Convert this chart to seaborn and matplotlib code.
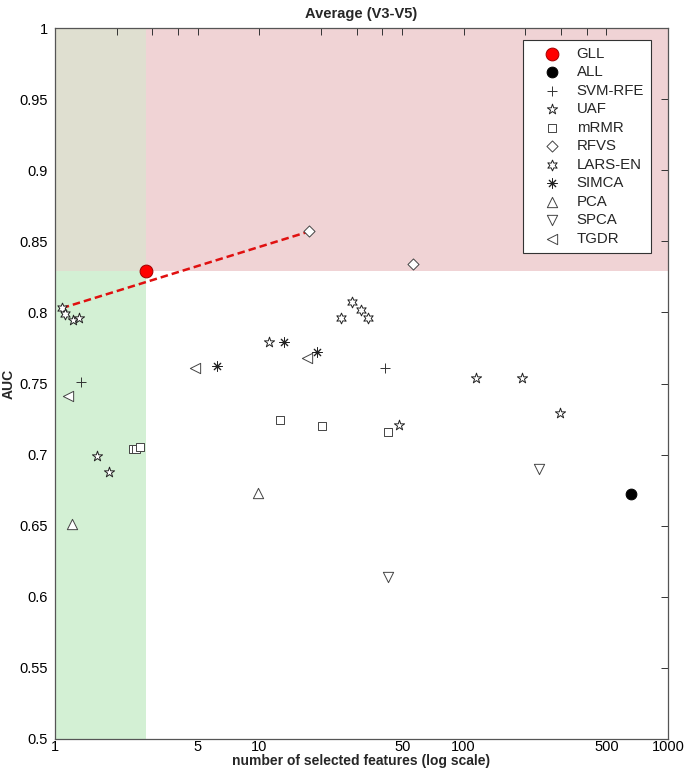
import numpy as np
import pandas as pd
import seaborn as sns
import matplotlib.pyplot as plt
from matplotlib.ticker import FixedLocator, FixedFormatter, NullLocator

# valores (numero de features, AUC)
gll_x = [2.8]
gll_y = [0.829]
all_x = [659]
all_y = [0.672]
svm_x = [1.34, 41.0]
svm_y = [0.751, 0.761]
uaf_x = [1.22, 1.31, 1.61, 1.84, 11.2, 48.5, 115, 194, 295]
uaf_y = [0.795, 0.796, 0.699, 0.688, 0.779, 0.721, 0.754, 0.754, 0.729]
mrmr_x = [2.41, 2.49, 2.61, 12.6, 20.3, 42.4]
mrmr_y = [0.704, 0.704, 0.705, 0.724, 0.720, 0.716]
rfvs_x = [17.6, 56.2]
rfvs_y = [0.857, 0.834]
lars_x = [1.08, 1.12, 25.2, 28.5, 31.5, 34.2]
lars_y = [0.803, 0.799, 0.796, 0.807, 0.802, 0.796]
simca_x = [6.22, 13.2, 19.2]
simca_y = [0.762, 0.779, 0.772]
pca_x = [1.21, 9.89]
pca_y = [0.651, 0.673]
spca_x = [42.4, 235]
spca_y = [0.614, 0.690]
tgdr_x = [1.16, 4.86, 17.2]
tgdr_y = [0.741, 0.761, 0.768]

x_ticks = [1, 2, 3, 4, 5, 10, 20, 30, 40, 50, 100, 200, 300, 400, 500, 1000]
x_labels = ['1', '', '', '', '5', '10', '', '', '', '50', '100', '', '', '', '500', '1000']
y_ticks = [0.5, 0.55, 0.6, 0.65, 0.7, 0.75, 0.8, 0.85, 0.9, 0.95, 1.0]

sns.set_theme(style='white')
plt.rcParams['font.family'] = ['Liberation Sans', 'DejaVu Sans']

fig = plt.figure(figsize=(6.85, 7.71), dpi=100)
ax = fig.add_axes([55 / 685, 1 - 739 / 771, 613 / 685, 711 / 771])
ax.set_xscale('log')
ax.set_xlim(1, 1000)
ax.set_ylim(0.5, 1)

# regioes coloridas
x_lim = gll_x[0]
y_lim = gll_y[0]
ax.fill_between([1, x_lim], 0.5, y_lim, color='#d3f0d4', lw=0, zorder=0)
ax.fill_between([x_lim, 1000], y_lim, 1, color='#f0d3d5', lw=0, zorder=0)
ax.fill_between([1, x_lim], y_lim, 1, color='#dfdfd0', lw=0, zorder=0)

# linha tracejada
ax.plot([lars_x[0], rfvs_x[0]], [lars_y[0], rfvs_y[0]], color='#e01010',
        ls=(0, (3, 1.6)), lw=1.8, zorder=2)

metodos = [
    ('GLL', gll_x, gll_y, 'o', 85, '#ff0000', '#a00000'),
    ('ALL', all_x, all_y, 'o', 60, 'black', 'black'),
    ('SVM-RFE', svm_x, svm_y, '+', 45, 'none', '#333333'),
    ('UAF', uaf_x, uaf_y, '*', 60, 'white', '#222222'),
    ('mRMR', mrmr_x, mrmr_y, 's', 30, 'white', '#444444'),
    ('RFVS', rfvs_x, rfvs_y, 'D', 32, 'white', '#444444'),
    ('LARS-EN', lars_x, lars_y, (6, 1, 0), 60, 'white', '#222222'),
    ('SIMCA', simca_x, simca_y, (8, 2, 0), 45, 'none', '#222222'),
    ('PCA', pca_x, pca_y, '^', 55, 'white', '#444444'),
    ('SPCA', spca_x, spca_y, 'v', 55, 'white', '#444444'),
    ('TGDR', tgdr_x, tgdr_y, '<', 55, 'white', '#444444'),
]

for nome, xs, ys, m, s, fc, ec in metodos:
    z = 5 if nome == 'GLL' else 3
    if fc == 'none':
        sns.scatterplot(x=xs, y=ys, marker=m, s=s, color=ec, linewidth=0.7,
                        label=nome, ax=ax, zorder=z)
    else:
        sns.scatterplot(x=xs, y=ys, marker=m, s=s, facecolor=fc, edgecolor=ec,
                        linewidth=0.7, label=nome, ax=ax, zorder=z)

ax.xaxis.set_major_locator(FixedLocator(x_ticks))
ax.xaxis.set_major_formatter(FixedFormatter(x_labels))
ax.xaxis.set_minor_locator(NullLocator())
ax.set_yticks(y_ticks)
ax.set_yticklabels(['%g' % v for v in y_ticks])
ax.tick_params(axis='both', direction='in', length=5, width=0.7, labelsize=10.5,
               top=True, right=True, colors='#333333', labelcolor='black')
ax.tick_params(axis='x', pad=1)
ax.tick_params(axis='y', pad=5)

for sp in ax.spines.values():
    sp.set_color('#555555')
    sp.set_linewidth(0.9)

ax.set_title('Average (V3-V5)', fontsize=10.5, fontweight='bold', pad=7)
ax.set_xlabel('number of selected features (log scale)', fontsize=10, fontweight='bold', labelpad=0)
ax.set_ylabel('AUC', fontsize=10, fontweight='bold', labelpad=3)

leg = ax.legend(loc='upper right', bbox_to_anchor=(0.972, 0.983), borderaxespad=0,
                frameon=True, fancybox=False, fontsize=10.8, edgecolor='#333333',
                handletextpad=0.15, labelspacing=0.3, borderpad=0.45,
                handlelength=3.0)
leg.get_frame().set_linewidth(0.8)
leg.get_frame().set_facecolor('white')
leg.get_frame().set_alpha(1)

fig.savefig('out.png', dpi=100)
